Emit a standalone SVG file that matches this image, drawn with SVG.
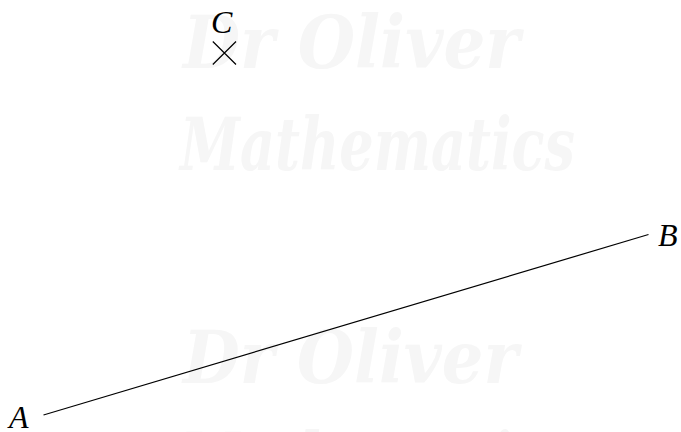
<svg xmlns="http://www.w3.org/2000/svg" width="681" height="432" viewBox="0 0 681 432">
<style>
.wm{font-family:"DejaVu Serif","Liberation Serif",serif;font-style:italic;font-weight:bold;fill:#f6f6f6}
.lbl{font-family:"Liberation Serif","DejaVu Serif",serif;font-style:italic;font-size:32px;fill:#000}
.ln{stroke:#000;stroke-width:1.2;fill:none}
</style>
<rect width="681" height="432" fill="#fff"/>
<g id="watermark">
<text class="wm" x="183" y="68" font-size="72" textLength="337" lengthAdjust="spacingAndGlyphs">Dr Oliver</text>
<text class="wm" x="180" y="170" font-size="72" textLength="395" lengthAdjust="spacingAndGlyphs">Mathematics</text>
<text class="wm" x="183" y="383" font-size="72" textLength="335" lengthAdjust="spacingAndGlyphs">Dr Oliver</text>
<text class="wm" x="180" y="485" font-size="72" textLength="395" lengthAdjust="spacingAndGlyphs">Mathematics</text>
</g>
<g id="connectors">
<line class="ln" x1="43.5" y1="415" x2="648.5" y2="234.5"/>
</g>
<g id="A"><text class="lbl" x="9" y="427.5">A</text></g>
<g id="B"><text class="lbl" x="658" y="246">B</text></g>
<g id="C">
<text class="lbl" x="211" y="33">C</text>
<path class="ln" d="M212.8 41.5 L236 64.5 M236 41.5 L212.8 64.5"/>
</g>
</svg>
